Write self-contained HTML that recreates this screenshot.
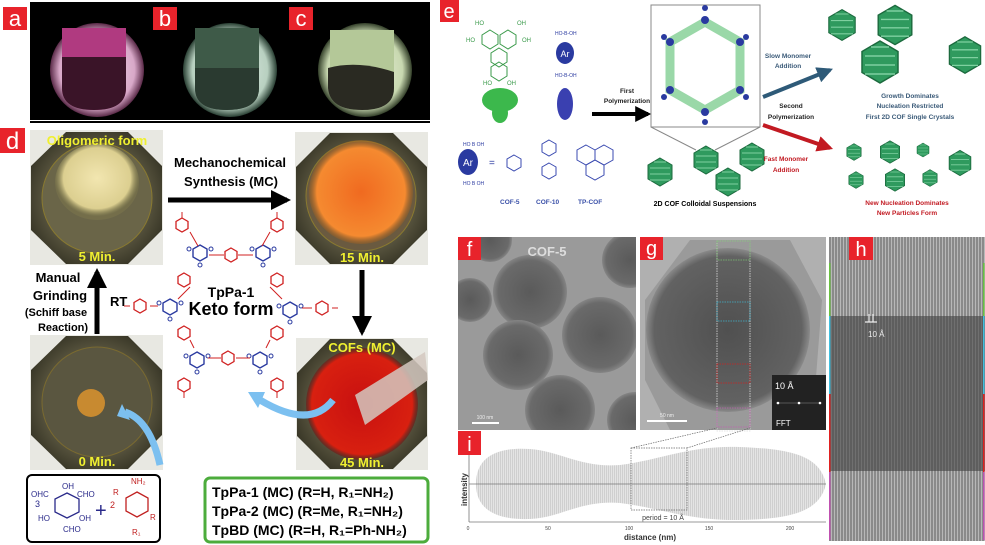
<!DOCTYPE html>
<html><head><meta charset="utf-8"><style>
body{margin:0;background:#fff;width:985px;height:545px;overflow:hidden}
svg{display:block}
text{font-family:"Liberation Sans",sans-serif}
</style></head><body>
<svg width="985" height="545" viewBox="0 0 985 545" xmlns="http://www.w3.org/2000/svg">
<defs>
<clipPath id="cf"><rect x="458" y="237" width="178" height="193"/></clipPath>
<clipPath id="cg"><rect x="640" y="237" width="186" height="193"/></clipPath>
<radialGradient id="flA" cx="50%" cy="50%" r="50%"><stop offset="0" stop-color="#f3e6ef"/><stop offset="0.8" stop-color="#d8a8c8"/><stop offset="1" stop-color="#5a2a48"/></radialGradient>
<radialGradient id="flB" cx="50%" cy="50%" r="50%"><stop offset="0" stop-color="#e6f0ea"/><stop offset="0.8" stop-color="#b8d0c0"/><stop offset="1" stop-color="#2a4034"/></radialGradient>
<radialGradient id="flC" cx="50%" cy="50%" r="50%"><stop offset="0" stop-color="#eef3e0"/><stop offset="0.8" stop-color="#c8d8b0"/><stop offset="1" stop-color="#34402a"/></radialGradient>
<radialGradient id="mort" cx="50%" cy="50%" r="55%"><stop offset="0" stop-color="#8a8468"/><stop offset="0.7" stop-color="#5a5640"/><stop offset="1" stop-color="#3a3828"/></radialGradient>
<radialGradient id="yel" cx="50%" cy="45%" r="50%"><stop offset="0" stop-color="#f2e6b0"/><stop offset="0.8" stop-color="#dccf90"/><stop offset="1" stop-color="#8a8450" stop-opacity="0.3"/></radialGradient>
<radialGradient id="org" cx="50%" cy="50%" r="50%"><stop offset="0" stop-color="#f06a20"/><stop offset="0.85" stop-color="#f58a30"/><stop offset="1" stop-color="#a06020" stop-opacity="0.4"/></radialGradient>
<radialGradient id="red" cx="50%" cy="50%" r="50%"><stop offset="0" stop-color="#c81010"/><stop offset="0.9" stop-color="#d82010"/><stop offset="1" stop-color="#701010" stop-opacity="0.5"/></radialGradient>
<radialGradient id="sph" cx="50%" cy="50%" r="50%"><stop offset="0" stop-color="#5a5a5a"/><stop offset="0.85" stop-color="#6a6a6a"/><stop offset="1" stop-color="#858585"/></radialGradient>
<radialGradient id="sphg" cx="50%" cy="50%" r="50%"><stop offset="0" stop-color="#505050"/><stop offset="0.9" stop-color="#626262"/><stop offset="1" stop-color="#8a8a8a"/></radialGradient>
<pattern id="lines" width="3" height="4" patternUnits="userSpaceOnUse"><rect width="3" height="4" fill="#8a8a8a"/><rect width="1" height="4" fill="#b8b8b8"/></pattern>
<pattern id="lines2" width="3" height="4" patternUnits="userSpaceOnUse"><rect width="3" height="4" fill="#5e5e5e"/><rect width="1" height="4" fill="#707070"/></pattern>
<pattern id="spikes" width="2" height="10" patternUnits="userSpaceOnUse"><rect width="2" height="10" fill="#e4e4e4"/><rect width="1" height="10" fill="#cfcfcf"/></pattern>
<marker id="ah" viewBox="0 0 10 10" refX="8" refY="5" markerWidth="4" markerHeight="4" orient="auto"><path d="M0,0L10,5L0,10z" fill="#000"/></marker>
<marker id="ahb" viewBox="0 0 10 10" refX="8" refY="5" markerWidth="4" markerHeight="4" orient="auto"><path d="M0,0L10,5L0,10z" fill="#2e5a78"/></marker>
<marker id="ahr" viewBox="0 0 10 10" refX="8" refY="5" markerWidth="4" markerHeight="4" orient="auto"><path d="M0,0L10,5L0,10z" fill="#c21a22"/></marker>
<g id="hexr"><polygon points="0,-7 6,-3.5 6,3.5 0,7 -6,3.5 -6,-3.5" fill="none" stroke="#d02020" stroke-width="1.3"/></g>
<g id="hexb"><polygon points="0,-8 7,-4 7,4 0,8 -7,4 -7,-4" fill="none" stroke="#2a3aa0" stroke-width="1.4"/><circle cx="-11" cy="-4" r="2" fill="none" stroke="#2a3aa0"/><circle cx="11" cy="-4" r="2" fill="none" stroke="#2a3aa0"/><circle cx="0" cy="12" r="2" fill="none" stroke="#2a3aa0"/></g>
<g id="cof"><polygon points="0,-14 12,-7 12,7 0,14 -12,7 -12,-7" fill="#2f9a5e" stroke="#1c6a3e"/><path d="M-10,-4h20M-10,2h20M-10,8h20M-6,-10h12" stroke="#7fd0a0" stroke-width="1"/></g>
</defs>

<rect x="30" y="2" width="400" height="118" fill="#000"/>
<circle cx="97" cy="70" r="47" fill="url(#flA)"/>
<path d="M62,28 h64 v60 q0,22 -32,22 q-32,0 -32,-22z" fill="#b03a80"/>
<path d="M62,57 h64 v31 q0,22 -32,22 q-32,0 -32,-22z" fill="#3a1428"/>
<circle cx="230" cy="70" r="47" fill="url(#flB)"/>
<path d="M195,28 h64 v60 q0,22 -32,22 q-32,0 -32,-22z" fill="#3e5a48"/>
<path d="M195,68 h64 v20 q0,22 -32,22 q-32,0 -32,-22z" fill="#2a3a30"/>
<circle cx="365" cy="70" r="47" fill="url(#flC)"/>
<path d="M330,30 h64 v58 q0,22 -32,22 q-32,0 -32,-22z" fill="#b4c898"/>
<path d="M328,68 q30,-8 66,4 v16 q0,22 -32,22 q-32,0 -34,-22z" fill="#2a2a22"/>
<rect x="3" y="7" width="24" height="23" fill="#e8232b"/><text x="15" y="26" font-size="22" fill="#fff" text-anchor="middle">a</text>
<rect x="153" y="7" width="24" height="23" fill="#e8232b"/><text x="165" y="26" font-size="22" fill="#fff" text-anchor="middle">b</text>
<rect x="289" y="7" width="24" height="23" fill="#e8232b"/><text x="301" y="26" font-size="22" fill="#fff" text-anchor="middle">c</text>
<rect x="30" y="121" width="400" height="2" fill="#000"/>

<rect x="0" y="128" width="25" height="25" fill="#e8232b"/><text x="12.5" y="149" font-size="24" fill="#fff" text-anchor="middle">d</text>
<rect x="30" y="130" width="133" height="135" fill="#e8e8e2"/>
<polygon points="66,132 128,132 162,166 162,230 128,264 66,264 31,230 31,166" fill="url(#mort)"/>
<circle cx="97" cy="198" r="55" fill="#6a6548" stroke="#8a7a30" stroke-width="1"/>
<ellipse cx="97" cy="182" rx="42" ry="38" fill="url(#yel)"/>
<text x="97" y="145" font-size="13" font-weight="bold" fill="#f0f030" text-anchor="middle">Oligomeric form</text>
<text x="97" y="261" font-size="13" font-weight="bold" fill="#f0f030" text-anchor="middle">5 Min.</text>
<rect x="295" y="132" width="133" height="133" fill="#e8e8e2"/>
<polygon points="330,133 393,133 427,167 427,230 393,264 330,264 296,230 296,167" fill="url(#mort)"/>
<circle cx="361" cy="196" r="55" fill="#6a5a40" stroke="#8a7a30"/>
<ellipse cx="361" cy="192" rx="52" ry="52" fill="url(#org)"/>
<text x="362" y="262" font-size="13" font-weight="bold" fill="#f0f030" text-anchor="middle">15 Min.</text>
<rect x="30" y="335" width="133" height="135" fill="#e8e8e2"/>
<polygon points="66,336 128,336 162,370 162,435 128,469 66,469 31,435 31,370" fill="url(#mort)"/>
<circle cx="97" cy="402" r="55" fill="#5a5640" stroke="#7a6a30"/>
<ellipse cx="91" cy="403" rx="14" ry="14" fill="#c88a30"/>
<text x="97" y="466" font-size="13" font-weight="bold" fill="#f0f030" text-anchor="middle">0 Min.</text>
<rect x="296" y="338" width="132" height="132" fill="#e8e8e2"/>
<polygon points="330,339 393,339 427,373 427,436 393,469 330,469 297,436 297,373" fill="url(#mort)"/>
<circle cx="362" cy="404" r="56" fill="url(#red)"/>
<polygon points="355,395 425,352 428,380 365,425" fill="#d4c8c0" opacity="0.85"/>
<text x="362" y="352" font-size="13" font-weight="bold" fill="#f0f030" text-anchor="middle">COFs (MC)</text>
<text x="362" y="467" font-size="13" font-weight="bold" fill="#f0f030" text-anchor="middle">45 Min.</text>
<line x1="168" y1="200" x2="287" y2="200" stroke="#000" stroke-width="5" marker-end="url(#ah)"/>
<text x="230" y="167" font-size="13" font-weight="bold" text-anchor="middle">Mechanochemical</text>
<text x="231" y="186" font-size="13" font-weight="bold" text-anchor="middle">Synthesis (MC)</text>
<line x1="362" y1="270" x2="362" y2="332" stroke="#000" stroke-width="5" marker-end="url(#ah)"/>
<line x1="97" y1="334" x2="97" y2="272" stroke="#000" stroke-width="5" marker-end="url(#ah)"/>
<text x="110" y="306" font-size="13" font-weight="bold">RT</text>
<text x="58" y="282" font-size="13" font-weight="bold" text-anchor="middle">Manual</text>
<text x="60" y="300" font-size="13" font-weight="bold" text-anchor="middle">Grinding</text>
<text x="56" y="316" font-size="11" font-weight="bold" text-anchor="middle">(Schiff base</text>
<text x="63" y="331" font-size="11" font-weight="bold" text-anchor="middle">Reaction)</text>
<g>
<use href="#hexb" x="200" y="253"/><use href="#hexb" x="263" y="253"/>
<use href="#hexb" x="170" y="307"/><use href="#hexb" x="290" y="310"/>
<use href="#hexb" x="197" y="360"/><use href="#hexb" x="260" y="360"/>
<use href="#hexr" x="182" y="225"/><use href="#hexr" x="277" y="225"/>
<use href="#hexr" x="231" y="255"/><use href="#hexr" x="184" y="280"/><use href="#hexr" x="277" y="280"/>
<use href="#hexr" x="140" y="306"/><use href="#hexr" x="322" y="308"/>
<use href="#hexr" x="184" y="333"/><use href="#hexr" x="277" y="333"/>
<use href="#hexr" x="228" y="358"/><use href="#hexr" x="184" y="385"/><use href="#hexr" x="277" y="385"/>
<path d="M182,218v-6M277,218v-6M130,306h-6M332,308h6M184,392v6M277,392v6M190,232l8,14M270,232l-8,14M209,255h15M238,255h15M190,287l-12,12M270,287l12,12M150,306h8M312,308h-10M190,340l4,8M270,340l-4,8M208,358h13M236,358h14" stroke="#d02020" stroke-width="1"/>
</g>
<text x="231" y="297" font-size="14" font-weight="bold" text-anchor="middle">TpPa-1</text>
<text x="231" y="315" font-size="18" font-weight="bold" text-anchor="middle">Keto form</text>
<path d="M160,465 Q150,420 125,412" stroke="#7cc0f0" stroke-width="7" fill="none"/>
<polygon points="122,404 130,420 117,416" fill="#7cc0f0"/>
<path d="M333,400 Q310,430 260,400" stroke="#7cc0f0" stroke-width="7" fill="none"/>
<polygon points="248,392 265,392 258,408" fill="#7cc0f0"/>
<rect x="27" y="475" width="133" height="67" rx="5" fill="#fff" stroke="#000" stroke-width="2"/>
<g fill="#2a2a8a" font-size="8">
<polygon points="67,493 79,499 79,512 67,518 55,512 55,499" fill="none" stroke="#2a2a8a" stroke-width="1.3"/>
<text x="62" y="489">OH</text><text x="31" y="497">OHC</text><text x="77" y="497">CHO</text>
<text x="35" y="507" font-size="9">3</text><text x="38" y="521">HO</text><text x="79" y="521">OH</text><text x="63" y="532">CHO</text>
</g>
<text x="95" y="517" font-size="20" fill="#2a2a8a">+</text><text x="110" y="508" font-size="9" fill="#c02020">2</text>
<g fill="#c02020" font-size="8"><polygon points="137,492 148,498 148,511 137,517 126,511 126,498" fill="none" stroke="#c02020" stroke-width="1.3"/>
<text x="131" y="484">NH₂</text><text x="113" y="495">R</text><text x="150" y="520">R</text><text x="132" y="535">R₁</text></g>
<rect x="205" y="478" width="223" height="64" rx="5" fill="#fff" stroke="#4cac3c" stroke-width="3"/>
<text x="212" y="497" font-size="14" font-weight="bold">TpPa-1 (MC) (R=H, R₁=NH₂)</text>
<text x="212" y="516" font-size="14" font-weight="bold">TpPa-2 (MC) (R=Me, R₁=NH₂)</text>
<text x="212" y="535" font-size="14" font-weight="bold">TpBD (MC) (R=H, R₁=Ph-NH₂)</text>

<rect x="440" y="0" width="19" height="22" fill="#e8232b"/><text x="449" y="18" font-size="20" fill="#fff" text-anchor="middle">e</text>
<g stroke="#3a9a4a" fill="none" stroke-width="1"><polygon points="490,30 498,35 498,44 490,49 482,44 482,35"/><polygon points="508,30 516,35 516,44 508,49 500,44 500,35"/><polygon points="499,48 507,53 507,62 499,67 491,62 491,53"/><polygon points="499,62 507,67 507,76 499,81 491,76 491,67"/></g>
<g font-size="6" fill="#3a9a4a"><text x="475" y="25">HO</text><text x="517" y="25">OH</text><text x="466" y="42">HO</text><text x="522" y="42">OH</text><text x="483" y="85">HO</text><text x="507" y="85">OH</text></g>
<ellipse cx="500" cy="100" rx="18" ry="12" fill="#3cb84c"/><ellipse cx="500" cy="113" rx="8" ry="10" fill="#3cb84c"/>
<ellipse cx="565" cy="53" rx="9" ry="11" fill="#2a3aa0"/><text x="565" y="57" font-size="9" fill="#fff" text-anchor="middle">Ar</text>
<text x="555" y="35" font-size="5" fill="#2a3aa0">HO‑B‑OH</text><text x="555" y="77" font-size="5" fill="#2a3aa0">HO‑B‑OH</text>
<ellipse cx="565" cy="104" rx="8" ry="16" fill="#3a40b0"/>
<ellipse cx="468" cy="162" rx="10" ry="13" fill="#2a3aa0"/><text x="468" y="166" font-size="10" fill="#fff" text-anchor="middle">Ar</text>
<text x="463" y="146" font-size="5" fill="#2a3aa0">HO B OH</text><text x="463" y="185" font-size="5" fill="#2a3aa0">HO B OH</text>
<text x="489" y="166" font-size="10" fill="#2a3aa0">=</text>
<g stroke="#3a4ab0" fill="none"><polygon points="514,155 521,159 521,167 514,171 507,167 507,159"/><polygon points="549,140 556,144 556,152 549,156 542,152 542,144"/><polygon points="549,163 556,167 556,175 549,179 542,175 542,167"/><polygon points="586,145 595,150 595,160 586,165 577,160 577,150"/><polygon points="604,145 613,150 613,160 604,165 595,160 595,150"/><polygon points="595,160 604,165 604,175 595,180 586,175 586,165"/></g>
<g font-size="6.5" font-weight="bold" fill="#3a50a8"><text x="500" y="204">COF-5</text><text x="536" y="204">COF-10</text><text x="578" y="204">TP-COF</text></g>
<text x="627" y="93" font-size="6.5" font-weight="bold" text-anchor="middle" fill="#222">First</text>
<text x="627" y="103" font-size="6.5" font-weight="bold" text-anchor="middle" fill="#222">Polymerization</text>
<line x1="592" y1="114" x2="648" y2="114" stroke="#000" stroke-width="4" marker-end="url(#ah)"/>
<rect x="651" y="5" width="109" height="122" fill="#fff" stroke="#888"/>
<polygon points="705,22 740,42 740,90 705,110 670,90 670,42" fill="none" stroke="#9ad8a8" stroke-width="9"/>
<g fill="#2a3aa0"><circle cx="705" cy="20" r="4"/><circle cx="740" cy="42" r="4"/><circle cx="740" cy="90" r="4"/><circle cx="705" cy="112" r="4"/><circle cx="670" cy="90" r="4"/><circle cx="670" cy="42" r="4"/><circle cx="664" cy="37" r="3"/><circle cx="746" cy="37" r="3"/><circle cx="664" cy="97" r="3"/><circle cx="746" cy="97" r="3"/><circle cx="705" cy="122" r="3"/><circle cx="705" cy="8" r="3"/></g>
<path d="M651,127 L696,150 M760,127 L715,150" stroke="#888"/>
<use href="#cof" x="660" y="172"/><use href="#cof" x="706" y="160"/><use href="#cof" x="752" y="157"/><use href="#cof" x="728" y="182"/>
<text x="705" y="206" font-size="7" font-weight="bold" text-anchor="middle">2D COF Colloidal Suspensions</text>
<line x1="763" y1="97" x2="830" y2="70" stroke="#2e5a78" stroke-width="4" marker-end="url(#ahb)"/>
<line x1="763" y1="125" x2="830" y2="148" stroke="#c21a22" stroke-width="4" marker-end="url(#ahr)"/>
<text x="788" y="58" font-size="6.5" font-weight="bold" text-anchor="middle" fill="#3a5a78">Slow Monomer</text>
<text x="788" y="68" font-size="6.5" font-weight="bold" text-anchor="middle" fill="#3a5a78">Addition</text>
<text x="791" y="108" font-size="6.5" font-weight="bold" text-anchor="middle" fill="#222">Second</text>
<text x="791" y="119" font-size="6.5" font-weight="bold" text-anchor="middle" fill="#222">Polymerization</text>
<text x="786" y="161" font-size="6.5" font-weight="bold" text-anchor="middle" fill="#c21a22">Fast Monomer</text>
<text x="786" y="172" font-size="6.5" font-weight="bold" text-anchor="middle" fill="#c21a22">Addition</text>
<g transform="translate(842,25) scale(1.1)"><use href="#cof"/></g>
<g transform="translate(895,25) scale(1.4)"><use href="#cof"/></g>
<g transform="translate(880,62) scale(1.5)"><use href="#cof"/></g>
<g transform="translate(965,55) scale(1.3)"><use href="#cof"/></g>
<text x="910" y="98" font-size="6.5" font-weight="bold" text-anchor="middle" fill="#3a5a78">Growth Dominates</text>
<text x="910" y="108" font-size="6.5" font-weight="bold" text-anchor="middle" fill="#3a5a78">Nucleation Restricted</text>
<text x="910" y="119" font-size="6.5" font-weight="bold" text-anchor="middle" fill="#3a5a78">First 2D COF Single Crystals</text>
<g transform="translate(854,152) scale(0.6)"><use href="#cof"/></g><g transform="translate(890,152) scale(0.8)"><use href="#cof"/></g><g transform="translate(923,150) scale(0.5)"><use href="#cof"/></g><g transform="translate(960,163) scale(0.9)"><use href="#cof"/></g>
<g transform="translate(856,180) scale(0.6)"><use href="#cof"/></g><g transform="translate(895,180) scale(0.8)"><use href="#cof"/></g><g transform="translate(930,178) scale(0.6)"><use href="#cof"/></g>
<text x="907" y="205" font-size="6.5" font-weight="bold" text-anchor="middle" fill="#c21a22">New Nucleation Dominates</text>
<text x="907" y="215" font-size="6.5" font-weight="bold" text-anchor="middle" fill="#c21a22">New Particles Form</text>

<g clip-path="url(#cf)">
<rect x="458" y="237" width="178" height="193" fill="#9a9a9a"/>
<circle cx="530" cy="292" r="37" fill="url(#sph)"/><circle cx="600" cy="335" r="38" fill="url(#sph)"/>
<circle cx="518" cy="355" r="35" fill="url(#sph)"/><circle cx="560" cy="410" r="35" fill="url(#sph)"/>
<circle cx="630" cy="260" r="28" fill="url(#sph)"/><circle cx="635" cy="420" r="28" fill="url(#sph)"/>
<circle cx="470" cy="300" r="22" fill="url(#sph)"/><circle cx="490" cy="240" r="22" fill="url(#sph)"/>
</g>
<rect x="458" y="237" width="23" height="23" fill="#e8232b"/><text x="469.5" y="256" font-size="20" fill="#fff" text-anchor="middle">f</text>
<text x="547" y="256" font-size="13" font-weight="bold" fill="#ddd" text-anchor="middle">COF-5</text>
<rect x="472" y="422" width="27" height="2" fill="#fff"/><text x="485" y="419" font-size="5" fill="#eee" text-anchor="middle">100 nm</text>
<g clip-path="url(#cg)">
<rect x="640" y="237" width="186" height="193" fill="#b0b0b0"/>
<polygon points="690,240 790,240 822,300 815,390 780,430 670,430 645,380 645,300" fill="#9a9a9a"/>
<circle cx="728" cy="330" r="82" fill="url(#sphg)"/>
</g>
<g fill="none" stroke-width="0.8" stroke-dasharray="1.5,1"><rect x="717" y="241" width="33" height="190" stroke="#ddd"/>
<rect x="717" y="241" width="33" height="19" stroke="#7ac070"/><rect x="717" y="302" width="33" height="19" stroke="#40b0c8"/>
<rect x="717" y="364" width="33" height="19" stroke="#d02020"/><rect x="717" y="408" width="33" height="19" stroke="#c060b0"/></g>
<rect x="772" y="375" width="54" height="55" fill="#222"/>
<text x="775" y="389" font-size="9" fill="#fff">10 Å</text>
<line x1="776" y1="403" x2="820" y2="403" stroke="#888" stroke-width="0.5"/><circle cx="778" cy="403" r="1.3" fill="#fff"/><circle cx="799" cy="403" r="1.3" fill="#fff"/><circle cx="820" cy="403" r="1.3" fill="#fff"/>
<text x="776" y="426" font-size="8" fill="#fff">FFT</text>
<rect x="647" y="420" width="40" height="2" fill="#fff"/><text x="667" y="417" font-size="5" fill="#eee" text-anchor="middle">50 nm</text>
<rect x="640" y="237" width="23" height="23" fill="#e8232b"/><text x="651.5" y="255" font-size="20" fill="#fff" text-anchor="middle">g</text>
<rect x="829" y="237" width="156" height="79" fill="url(#lines)"/>
<rect x="829" y="316" width="156" height="155" fill="url(#lines2)"/>
<rect x="829" y="471" width="156" height="70" fill="url(#lines)"/>
<rect x="829" y="263" width="1.5" height="53" fill="#6ac040"/><rect x="983" y="263" width="1.5" height="53" fill="#6ac040"/>
<rect x="829" y="316" width="1.5" height="78" fill="#40c0e0"/><rect x="983" y="316" width="1.5" height="78" fill="#40c0e0"/>
<rect x="829" y="394" width="1.5" height="78" fill="#e02020"/><rect x="983" y="394" width="1.5" height="78" fill="#e02020"/>
<rect x="829" y="472" width="1.5" height="68" fill="#c050b0"/><rect x="983" y="472" width="1.5" height="68" fill="#c050b0"/>
<rect x="849" y="237" width="24" height="23" fill="#e8232b"/><text x="861" y="256" font-size="20" fill="#fff" text-anchor="middle">h</text>
<path d="M865,322h12M869,314v8M873,314v8" stroke="#eee" stroke-width="1.2"/>
<text x="868" y="337" font-size="8" fill="#eee">10 Å</text>
<path d="M476,484 C476,455 500,447 530,449 C560,451 580,468 620,465 C660,460 690,445 740,447 C790,449 820,455 826,484 C820,512 790,519 740,520 C690,521 660,508 620,503 C580,500 560,518 530,519 C500,520 476,512 476,484Z" fill="url(#spikes)"/>
<line x1="469" y1="484" x2="826" y2="484" stroke="#777" stroke-width="0.8"/>
<line x1="469" y1="455" x2="469" y2="522" stroke="#777" stroke-width="0.8"/>
<line x1="469" y1="522" x2="826" y2="522" stroke="#777" stroke-width="0.8"/>
<g fill="none" stroke="#666" stroke-width="0.7" stroke-dasharray="1.5,1"><rect x="631" y="448" width="56" height="62"/><path d="M631,448 L717,428 M687,448 L750,428"/></g>
<text x="663" y="520" font-size="7" fill="#444" text-anchor="middle">period = 10 Å</text>
<g font-size="5" fill="#444" text-anchor="middle"><text x="468" y="530">0</text><text x="548" y="530">50</text><text x="629" y="530">100</text><text x="709" y="530">150</text><text x="790" y="530">200</text></g>
<text x="650" y="540" font-size="8" font-weight="bold" fill="#333" text-anchor="middle">distance (nm)</text>
<text transform="translate(467,506) rotate(-90)" font-size="8" font-weight="bold" fill="#333">intensity</text>
<rect x="458" y="431" width="23" height="24" fill="#e8232b"/><text x="469.5" y="451" font-size="20" fill="#fff" text-anchor="middle">i</text>
</svg>
</body></html>
